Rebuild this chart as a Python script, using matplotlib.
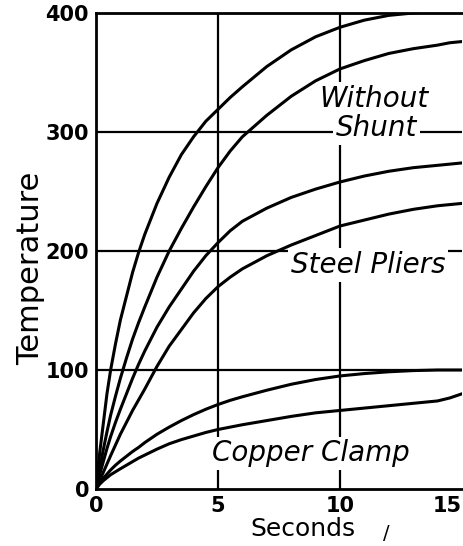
import matplotlib
matplotlib.use('Agg')
import matplotlib.pyplot as plt

# time in seconds, temperature readings for six test curves
t = [0, 0.15, 0.3, 0.45, 0.6, 0.8, 1, 1.25, 1.5, 1.75, 2, 2.5, 3, 3.5, 4, 4.5,
     5, 5.5, 6, 7, 8, 9, 10, 11, 12, 13, 14, 14.5, 15]
temp1 = [0, 30, 55, 80, 100, 122, 142, 162, 182, 199, 214, 240, 262, 281, 296, 309,
         319, 329, 338, 355, 369, 380, 388, 394, 398, 400, 401, 402, 402]
temp2 = [0, 17, 33, 48, 62, 78, 93, 110, 126, 140, 153, 178, 200, 219, 237, 254,
         270, 284, 296, 314, 330, 343, 353, 360, 366, 370, 373, 375, 376]
temp3 = [0, 12, 23, 34, 44, 56, 67, 80, 93, 105, 116, 136, 153, 168, 183, 196,
         207, 217, 225, 236, 245, 252, 258, 263, 267, 270, 272, 273, 274]
temp4 = [0, 7, 14, 21, 28, 37, 46, 56, 66, 75, 84, 103, 120, 134, 148, 160,
         170, 178, 185, 196, 205, 213, 221, 226, 231, 235, 238, 239, 240]
temp5 = [0, 5, 9, 12.5, 16, 20, 23.5, 27.5, 31.5, 35, 39, 46, 52, 57.5, 62.5, 67,
         71, 74.5, 77.5, 83, 88, 92, 95, 97, 98.5, 99.5, 100, 100, 100]
temp6 = [0, 4, 7, 9.5, 12, 14.5, 17, 20, 23, 26, 28.5, 33.5, 38, 41.5, 44.5, 47.5,
         50, 52, 54, 57.5, 61, 64, 66, 68, 70, 72, 74, 76.5, 80]

xticks = [0, 5, 10, 15]
yticks = [0, 100, 200, 300, 400]

fig = plt.figure(figsize=(4.63, 5.46), dpi=100)
ax = fig.add_axes([0.2073, 0.1044, 0.7905, 0.8718])

for v in [5, 10]:
    ax.axvline(v, color='black', lw=1.6, zorder=1)
for v in [100, 200, 300]:
    ax.axhline(v, color='black', lw=1.6, zorder=1)

for y in [temp1, temp2, temp3, temp4, temp5, temp6]:
    ax.plot(t, y, color='black', lw=2.2, zorder=2, solid_joinstyle='round')

box = dict(facecolor='white', edgecolor='none', pad=2)
lab = dict(fontsize=20, style='italic', ha='center', va='center', zorder=3, bbox=box)
ax.text(11.4, 328, 'Without', **lab)
ax.text(11.5, 303, 'Shunt', **lab)
ax.text(11.15, 188, 'Steel Pliers', **lab)
ax.text(8.8, 30, 'Copper Clamp', **lab)

ax.set_xlim(0, 15)
ax.set_ylim(0, 400)
ax.set_xticks(xticks)
ax.set_yticks(yticks)
ax.tick_params(length=0, labelsize=15, pad=5)
for lbl in ax.get_xticklabels() + ax.get_yticklabels():
    lbl.set_fontweight('bold')
# last x label sits at the image edge, keep it inside
ax.get_xticklabels()[-1].set_horizontalalignment('right')
for s in ['left', 'bottom', 'top']:
    ax.spines[s].set_linewidth(2)
ax.spines['right'].set_visible(False)

ax.set_ylabel('Temperature', fontsize=22)
ax.yaxis.set_label_coords(-0.14, 0.464)
fig.text(0.655, 0.01, 'Seconds', fontsize=18, ha='center', va='bottom')
fig.text(0.835, 0.005, '/', fontsize=14, ha='center', va='bottom')

fig.savefig('out.png', dpi=100)
